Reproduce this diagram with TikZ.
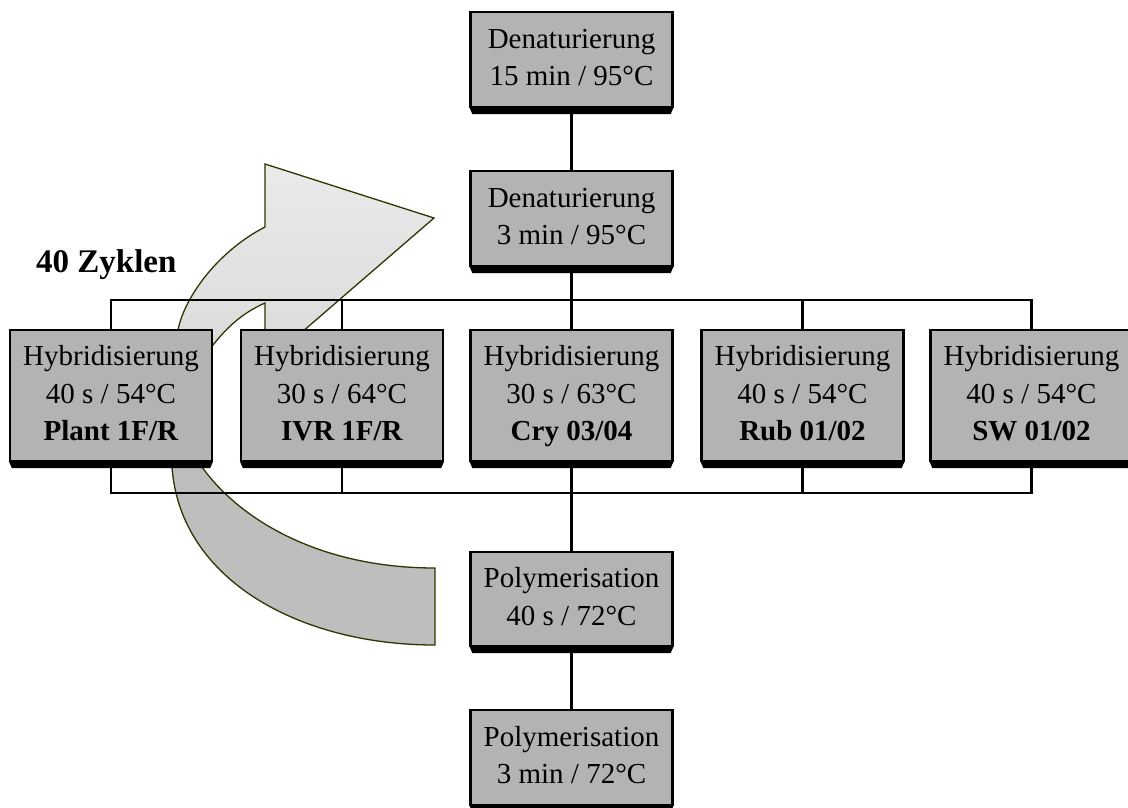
\documentclass[tikz,border=0pt]{standalone}
\usepackage{fontspec}
\setmainfont{Liberation Serif}
\usetikzlibrary{calc,backgrounds}
\definecolor{boxgray}{RGB}{179,179,179}
\definecolor{arrowline}{RGB}{51,51,0}
\definecolor{arrowlow}{RGB}{190,190,190}
\definecolor{arrowtop}{RGB}{234,234,234}
\definecolor{arrowbot}{RGB}{214,214,214}
\begin{document}
\begin{tikzpicture}[x=1pt,y=-1pt,
  pbox/.style={draw=black, line width=2.3pt, fill=boxgray, minimum width=202pt,
    inner sep=0pt, align=center, font=\fontsize{29}{37.5}\selectfont},
  conn/.style={draw=black, line width=2.7pt},
  band/.style={draw=arrowline, line width=1.3pt, line join=miter}]
\useasboundingbox (0,0) rectangle (1128,807);

% boxes
\node[pbox, minimum height=95pt] (d1) at (571.5,59.5) {\strut Denaturierung\\15 min / 95°C\strut};
\node[pbox, minimum height=95pt] (d2) at (571.5,218.5) {\strut Denaturierung\\3 min / 95°C\strut};
\node[pbox, minimum height=131pt] (h1) at (111,395.5) {\strut Hybridisierung\\40 s / 54°C\\\textbf{Plant 1F/R}\strut};
\node[pbox, minimum height=131pt] (h2) at (342,395.5) {\strut Hybridisierung\\30 s / 64°C\\\textbf{IVR 1F/R}\strut};
\node[pbox, minimum height=131pt] (h3) at (571.5,395.5) {\strut Hybridisierung\\30 s / 63°C\\\textbf{Cry 03/04}\strut};
\node[pbox, minimum height=131pt] (h4) at (802.5,395.5) {\strut Hybridisierung\\40 s / 54°C\\\textbf{Rub 01/02}\strut};
\node[pbox, minimum height=131pt] (h5) at (1031.5,395.5) {\strut Hybridisierung\\40 s / 54°C\\\textbf{SW 01/02}\strut};
\node[pbox, minimum height=94pt] (p1) at (571.5,599) {\strut Polymerisation\\40 s / 72°C\strut};
\node[pbox, minimum height=95pt] (p2) at (571.5,757.5) {\strut Polymerisation\\3 min / 72°C\strut};

% box shadows
\foreach \n in {d1,d2,h1,h2,h3,h4,h5,p1,p2}{
  \fill[black] ($(\n.south west)+(0,-1)$) -- ($(\n.south east)+(0,-1)$)
    -- ($(\n.south east)+(-3,6)$) -- ($(\n.south west)+(3,6)$) -- cycle;
}

\node[anchor=base west, inner sep=0pt, font=\fontsize{33}{40}\selectfont\bfseries] (zyk) at (36,272) {40 Zyklen};

\coordinate (bt) at (571.5,300);
\coordinate (bb) at (571.5,493);

\begin{pgfonlayer}{background}
% cycle arrow, upper part
\path[band, top color=arrowtop, bottom color=arrowbot]
  (265,164) -- (434,218) -- (265,364) -- (265,303)
  .. controls (240,314) and (225,330) .. (213,345)
  .. controls (200,362) and (190,385) .. (185,420)
  -- (160,420)
  .. controls (165,380) and (170,350) .. (178,330)
  .. controls (185,295) and (220,250) .. (265,227) -- cycle;
% cycle arrow, lower part
\path[band, fill=arrowlow]
  (185,430) -- (202,467)
  .. controls (240,520) and (320,568) .. (435,568)
  -- (435,645)
  .. controls (300,645) and (180,580) .. (172,467)
  -- (170,430) -- cycle;
% connectors
\draw[conn] (d1.south) -- (d2.north);
\draw[conn] (d2.south) -- (bt);
\draw[conn] (h1.north) |- (bt) -| (h5.north);
\foreach \n in {h2,h3,h4} \draw[conn] (\n.north) -- (\n.north |- bt);
\draw[conn] (h1.south) |- (bb) -| (h5.south);
\foreach \n in {h2,h3,h4} \draw[conn] (\n.south) -- (\n.south |- bb);
\draw[conn] (bb) -- (p1.north);
\draw[conn] (p1.south) -- (p2.north);
\end{pgfonlayer}
\end{tikzpicture}
\end{document}
